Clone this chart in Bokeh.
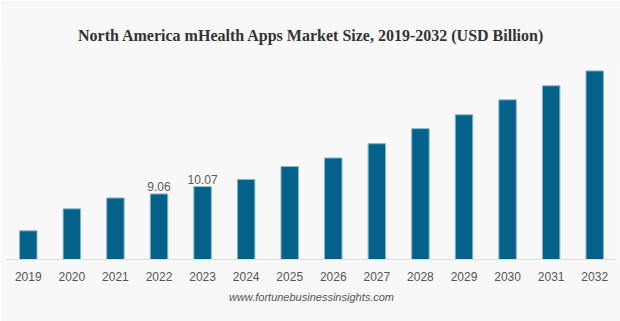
from bokeh.plotting import figure
from bokeh.models import ColumnDataSource, Title, LabelSet
from bokeh.core.properties import value
from bokeh.embed import file_html
from bokeh.resources import INLINE

years = [str(y) for y in range(2019, 2033)]
market_size = [3.96, 7.0, 8.5, 9.06, 10.07, 11.05, 12.84, 14.03, 16.0, 18.08, 20.0, 22.06, 24.0, 26.06]
value_labels = ["", "", "", "9.06", "10.07", "", "", "", "", "", "", "", "", ""]
title_text = "North America mHealth Apps Market Size, 2019-2032 (USD Billion)"

source = ColumnDataSource(data=dict(years=years, market_size=market_size, value_labels=value_labels))

BG = "#f8f8f8"

p = figure(x_range=years, y_range=(0, 27.5), width=620, height=321,
           output_backend="svg", toolbar_location=None,
           min_border_left=6, min_border_right=4, min_border_top=60, min_border_bottom=62)

p.background_fill_color = BG
p.border_fill_color = BG
p.outline_line_color = None

p.title.text = title_text
p.title.align = "center"
p.title.text_font = "Liberation Serif"
p.title.text_font_style = "bold"
p.title.text_font_size = "16px"
p.title.text_color = "#333333"
p.title.standoff = 34

p.vbar(x="years", top="market_size", width=0.4, source=source,
       fill_color="#03618a", line_color="#86b4c8", line_width=1)

labels = LabelSet(x="years", y="market_size", text="value_labels", source=source,
                  text_align="center", text_baseline="bottom", y_offset=3,
                  text_font=value("Liberation Sans"), text_font_size="12px", text_color="#5a5a5a")
p.add_layout(labels)

p.yaxis.visible = False
p.xgrid.grid_line_color = None
p.ygrid.grid_line_color = None
p.xaxis.axis_line_color = "#dddddd"
p.xaxis.major_tick_line_color = None
p.xaxis.minor_tick_line_color = None
p.xaxis.major_label_standoff = 6
p.xaxis.major_label_text_font = "Liberation Sans"
p.xaxis.major_label_text_font_size = "12px"
p.xaxis.major_label_text_color = "#555555"

footer = Title(text="www.fortunebusinessinsights.com", align="center",
               text_font="Liberation Sans", text_font_style="italic",
               text_font_size="11px", text_color="#555555")
p.add_layout(footer, "below")

open("out.html", "w").write(file_html(p, INLINE))
